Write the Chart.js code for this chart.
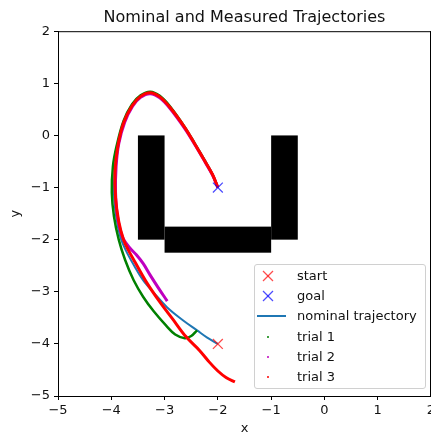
<!DOCTYPE html>
<html lang="en">
<head>
<meta charset="UTF-8">
<title>Nominal and Measured Trajectories</title>
<script src="https://cdn.jsdelivr.net/npm/chart.js"></script>
<style>
  body { margin: 0; background: #fff; font-family: "DejaVu Sans", sans-serif; }
  .wrap { position: relative; width: 431px; height: 432px; overflow: hidden; }
  #legend {
    position: absolute; left: 254px; top: 264px; width: 170px; height: 123px;
    border: 1px solid #d0d0d0; border-radius: 3px; background: rgba(255,255,255,0.85);
    font-size: 13px; color: #111;
  }
  #legend .row { position: absolute; left: 0; height: 20px; width: 100%; }
  #legend .row span { position: absolute; left: 42px; top: 1px; line-height: 18px; white-space: nowrap; }
  #legend svg { position: absolute; left: 0; top: 0; }
</style>
</head>
<body>
<div class="wrap">
  <canvas id="traj" width="431" height="432"></canvas>
  <div id="legend"></div>
</div>
<script>
// axis ticks
const xTicks = [-5, -4, -3, -2, -1, 0, 1, 2];
const yTicks = [-5, -4, -3, -2, -1, 0, 1, 2];

// start / goal positions
const startPos = [[-2.0, -4.0]];
const goalPos = [[-2.0, -1.0]];

// obstacle blocks: [xmin, xmax, ymin, ymax]
const obstacles = [
  [-3.5, -3.0, -2.0, 0.0],
  [-3.0, -1.0, -2.25, -1.75],
  [-1.0, -0.5, -2.0, 0.0]
];

// planned path, start -> goal
const nominal = [
  [-2.0, -4.0], [-2.2, -3.88], [-2.39, -3.74], [-2.65, -3.55], [-2.95, -3.3],
  [-3.2, -3.02], [-3.4, -2.78], [-3.57, -2.5], [-3.73, -2.2], [-3.83, -1.95],
  [-3.91, -1.55], [-3.95, -1.1], [-3.93, -0.6], [-3.87, -0.18], [-3.76, 0.24],
  [-3.61, 0.56], [-3.45, 0.74], [-3.27, 0.81], [-3.09, 0.73], [-2.9, 0.53],
  [-2.62, 0.14], [-2.43, -0.17], [-2.24, -0.5], [-2.1, -0.76], [-2.0, -1.0]
];

// measured runs
const trial1 = [
  [-2.39, -3.74], [-2.5, -3.85], [-2.62, -3.89], [-2.8, -3.82], [-2.97, -3.65],
  [-3.2, -3.38], [-3.4, -3.1], [-3.58, -2.78], [-3.74, -2.39], [-3.86, -2.0],
  [-3.95, -1.55], [-3.99, -1.1], [-3.97, -0.6], [-3.9, -0.2], [-3.77, 0.28],
  [-3.61, 0.6], [-3.45, 0.77], [-3.27, 0.84], [-3.09, 0.76], [-2.9, 0.56],
  [-2.62, 0.16], [-2.43, -0.16], [-2.24, -0.49], [-2.1, -0.75], [-2.0, -1.0]
];
const trial2 = [
  [-2.95, -3.18], [-3.12, -2.92], [-3.27, -2.68], [-3.4, -2.46], [-3.53, -2.29],
  [-3.66, -2.15], [-3.79, -1.95], [-3.88, -1.58], [-3.92, -1.1], [-3.91, -0.6],
  [-3.86, -0.16], [-3.75, 0.25], [-3.6, 0.56], [-3.45, 0.73], [-3.27, 0.8],
  [-3.09, 0.72], [-2.9, 0.52], [-2.62, 0.13], [-2.43, -0.18], [-2.24, -0.51],
  [-2.1, -0.76], [-2.0, -1.0]
];
const trial3 = [
  [-1.68, -4.73], [-1.84, -4.65], [-2.0, -4.52], [-2.16, -4.35], [-2.34, -4.13],
  [-2.6, -3.86], [-2.85, -3.52], [-3.1, -3.18], [-3.35, -2.8], [-3.55, -2.44],
  [-3.68, -2.2], [-3.77, -2.0], [-3.86, -1.65], [-3.92, -1.2], [-3.93, -0.7],
  [-3.88, -0.22], [-3.77, 0.24], [-3.61, 0.57], [-3.45, 0.75], [-3.27, 0.82],
  [-3.09, 0.74], [-2.9, 0.54], [-2.62, 0.15], [-2.43, -0.17], [-2.24, -0.5],
  [-2.1, -0.75], [-2.0, -1.0]
];

const seriesNames = ['start', 'goal', 'nominal trajectory', 'trial 1', 'trial 2', 'trial 3'];

const toXY = arr => arr.map(p => ({ x: p[0], y: p[1] }));
const fmt = v => (v < 0 ? '\u2212' + Math.abs(v) : String(v));

// black blocks behind the paths
const obstaclePlugin = {
  id: 'obstacles',
  beforeDatasetsDraw(chart) {
    const { ctx, scales: { x, y } } = chart;
    ctx.save();
    ctx.fillStyle = '#000';
    obstacles.forEach(o => {
      const x0 = x.getPixelForValue(o[0]), x1 = x.getPixelForValue(o[1]);
      const y0 = y.getPixelForValue(o[3]), y1 = y.getPixelForValue(o[2]);
      ctx.fillRect(x0, y0, x1 - x0, y1 - y0);
    });
    ctx.restore();
  }
};

// top and right spines
const framePlugin = {
  id: 'frame',
  afterDraw(chart) {
    const { ctx, chartArea: a } = chart;
    ctx.save();
    ctx.strokeStyle = '#000';
    ctx.lineWidth = 1;
    ctx.beginPath();
    ctx.moveTo(a.left, a.top + 0.5);
    ctx.lineTo(a.right, a.top + 0.5);
    ctx.moveTo(a.right - 0.5, a.top);
    ctx.lineTo(a.right - 0.5, a.bottom);
    ctx.stroke();
    ctx.restore();
  }
};

const lineSet = (label, pts, color, width, order) => ({
  type: 'line', label, data: toXY(pts), borderColor: color, backgroundColor: color,
  borderWidth: width, pointRadius: 0, tension: 0.35, fill: false, order
});
const markSet = (label, pts, color, order) => ({
  type: 'scatter', label, data: toXY(pts), pointStyle: 'crossRot', pointRadius: 7,
  borderColor: color, backgroundColor: color, pointBorderWidth: 1.3, order
});

const tickFont = { family: 'DejaVu Sans', size: 13 };

new Chart(document.getElementById('traj'), {
  type: 'scatter',
  data: {
    datasets: [
      markSet(seriesNames[0], startPos, 'rgba(255,0,0,0.7)', 0),
      markSet(seriesNames[1], goalPos, 'rgba(0,0,255,0.7)', 0),
      lineSet(seriesNames[2], nominal, '#1f77b4', 2, 4),
      lineSet(seriesNames[3], trial1, '#008000', 2.5, 3),
      lineSet(seriesNames[4], trial2, '#bf00bf', 3, 2),
      lineSet(seriesNames[5], trial3, '#ff0000', 3, 1)
    ]
  },
  options: {
    responsive: false,
    animation: false,
    layout: { padding: 0, autoPadding: false },
    plugins: {
      legend: { display: false },
      tooltip: { enabled: false },
      title: {
        display: true,
        text: 'Nominal and Measured Trajectories',
        fullSize: false,
        color: '#111',
        font: { family: 'DejaVu Sans', size: 16, weight: 'normal' },
        padding: { top: 8, bottom: 4 }
      }
    },
    scales: {
      x: {
        type: 'linear', min: -5, max: 2,
        afterBuildTicks: s => { s.ticks = xTicks.map(v => ({ value: v })); },
        ticks: { font: tickFont, color: '#111', padding: 3, maxRotation: 0, callback: fmt },
        grid: { drawOnChartArea: false, drawTicks: true, tickLength: 4, color: '#000' },
        border: { display: true, color: '#000', width: 1 },
        title: { display: true, text: 'x', font: tickFont, color: '#111', padding: { top: 0, bottom: -4 } },
        afterFit: s => { s.height = 36; s.paddingLeft = 0; s.paddingRight = 0; }
      },
      y: {
        type: 'linear', min: -5, max: 2,
        afterBuildTicks: s => { s.ticks = yTicks.map(v => ({ value: v })); },
        ticks: { font: tickFont, color: '#111', padding: 4, callback: fmt },
        grid: { drawOnChartArea: false, drawTicks: true, tickLength: 4, color: '#000' },
        border: { display: true, color: '#000', width: 1 },
        title: { display: true, text: 'y', font: tickFont, color: '#111', padding: { top: 8, bottom: 0 } },
        afterFit: s => { s.width = 58; s.paddingTop = 0; s.paddingBottom = 0; }
      }
    }
  },
  plugins: [obstaclePlugin, framePlugin]
});

// legend box in the lower right of the plot
const legendIcons = [
  '<line x1="8" y1="5" x2="18" y2="15" stroke="rgba(255,0,0,0.7)" stroke-width="1.3"/><line x1="18" y1="5" x2="8" y2="15" stroke="rgba(255,0,0,0.7)" stroke-width="1.3"/>',
  '<line x1="8" y1="5" x2="18" y2="15" stroke="rgba(0,0,255,0.7)" stroke-width="1.3"/><line x1="18" y1="5" x2="8" y2="15" stroke="rgba(0,0,255,0.7)" stroke-width="1.3"/>',
  '<line x1="2" y1="10" x2="31" y2="10" stroke="#1f77b4" stroke-width="2"/>',
  '<circle cx="13" cy="10" r="1" fill="#008000"/>',
  '<circle cx="13" cy="10" r="1" fill="#bf00bf"/>',
  '<circle cx="13" cy="10" r="1" fill="#ff0000"/>'
];
const legendEl = document.getElementById('legend');
seriesNames.forEach((name, i) => {
  const row = document.createElement('div');
  row.className = 'row';
  row.style.top = (1 + i * 20.2) + 'px';
  row.innerHTML = '<svg width="34" height="20">' + legendIcons[i] + '</svg><span>' + name + '</span>';
  legendEl.appendChild(row);
});
</script>
</body>
</html>
